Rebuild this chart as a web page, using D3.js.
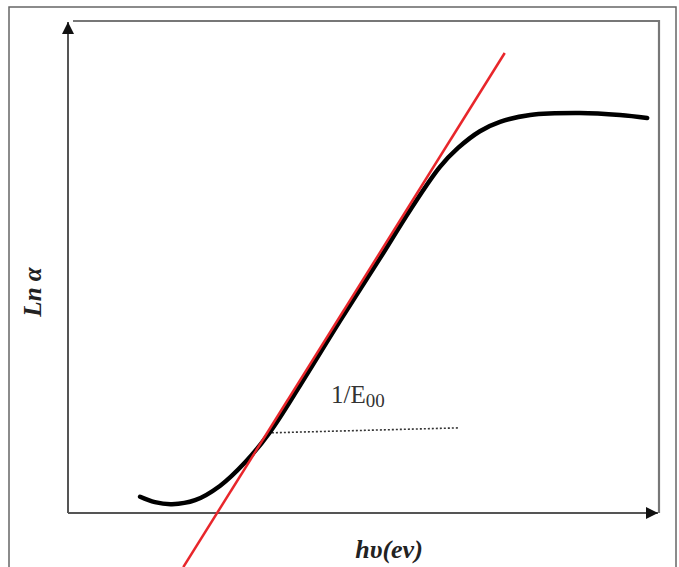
<!DOCTYPE html>
<html>
<head>
<meta charset="utf-8">
<script src="https://cdn.jsdelivr.net/npm/d3@7"></script>
<style>
  body { margin: 0; background: #fff; }
  svg { display: block; }
</style>
</head>
<body>
<div id="chart"></div>
<script>
// curve (arbitrary units, 0..100 on both axes)
var curveX = [12.2, 14.7, 17.6, 21.5, 25.7, 29.9, 34.2, 39.3, 46.0, 52.8, 57.9, 62.9, 66.0, 69.7, 73.1, 78.2, 86.6, 93.4, 98.0];
var curveY = [3.3, 2.2, 1.8, 2.6, 5.5, 10.2, 16.5, 26.0, 39.0, 51.8, 61.6, 70.3, 74.2, 77.6, 79.5, 80.9, 81.3, 80.9, 80.3];

// red tangent line
var tangentX = [19.5, 73.9];
var tangentY = [-11.0, 93.5];

// dotted line under the 1/E00 label
var dotX = [34.5, 66.0];
var dotY = [16.3, 17.3];

var xLabel = "hυ(ev)";
var yLabel = "Ln α";

var W = 679, H = 567;
// note: "top" is taken by window.top, so use plot* names
var plotLeft = 68, plotRight = 659, plotTop = 21, plotBottom = 513;

var svg = d3.select("#chart").append("svg")
  .attr("width", W)
  .attr("height", H);

var xScale = d3.scaleLinear().domain([0, 100]).range([plotLeft, plotRight]);
var yScale = d3.scaleLinear().domain([0, 100]).range([plotBottom, plotTop]);

// outer frame of the figure
svg.append("rect")
  .attr("x", 9).attr("y", 7)
  .attr("width", 667).attr("height", 575)
  .attr("fill", "none")
  .attr("stroke", "#666")
  .attr("stroke-width", 1.5);

// top and right sides of the plot box
svg.append("path")
  .attr("d", "M" + (plotLeft + 5) + "," + plotTop + "H" + plotRight + "V" + plotBottom)
  .attr("fill", "none")
  .attr("stroke", "#777")
  .attr("stroke-width", 2.2);

svg.append("defs").append("marker")
  .attr("id", "arrow")
  .attr("viewBox", "0 0 10 10")
  .attr("refX", 10).attr("refY", 5)
  .attr("markerWidth", 6).attr("markerHeight", 6)
  .attr("markerUnits", "strokeWidth")
  .attr("orient", "auto")
  .append("path")
  .attr("d", "M0,0L10,5L0,10z")
  .attr("fill", "#111");

// axes, drawn as plain lines with arrow heads
svg.append("line")
  .attr("x1", plotLeft).attr("y1", plotBottom)
  .attr("x2", plotRight - 1).attr("y2", plotBottom)
  .attr("stroke", "#555").attr("stroke-width", 2)
  .attr("marker-end", "url(#arrow)");

svg.append("line")
  .attr("x1", plotLeft).attr("y1", plotBottom)
  .attr("x2", plotLeft).attr("y2", plotTop + 1)
  .attr("stroke", "#555").attr("stroke-width", 2)
  .attr("marker-end", "url(#arrow)");

var straight = d3.line()
  .x(function(d) { return xScale(d[0]); })
  .y(function(d) { return yScale(d[1]); });

var smooth = d3.line()
  .x(function(d) { return xScale(d[0]); })
  .y(function(d) { return yScale(d[1]); })
  .curve(d3.curveCatmullRom.alpha(0.5));

// dotted line
svg.append("path")
  .datum(d3.zip(dotX, dotY))
  .attr("d", straight)
  .attr("fill", "none")
  .attr("stroke", "#333")
  .attr("stroke-width", 1.6)
  .attr("stroke-dasharray", "2,2");

// black measured curve
svg.append("path")
  .datum(d3.zip(curveX, curveY))
  .attr("d", smooth)
  .attr("fill", "none")
  .attr("stroke", "#000")
  .attr("stroke-width", 4.5)
  .attr("stroke-linecap", "round");

// red tangent
svg.append("path")
  .datum(d3.zip(tangentX, tangentY))
  .attr("d", straight)
  .attr("fill", "none")
  .attr("stroke", "#e8262b")
  .attr("stroke-width", 2.5);

// 1/E00 label
var lab = svg.append("text")
  .attr("x", 331).attr("y", 403)
  .style("font-family", "'Liberation Serif', 'Times New Roman', serif")
  .style("font-size", "25px")
  .attr("fill", "#333");
lab.append("tspan").text("1/E");
lab.append("tspan").attr("dy", 4).style("font-size", "19px").text("00");

// axis titles
svg.append("text")
  .attr("x", 389).attr("y", 558)
  .attr("text-anchor", "middle")
  .style("font-family", "'Liberation Serif', 'Times New Roman', serif")
  .style("font-size", "26px")
  .style("font-weight", "bold")
  .style("font-style", "italic")
  .attr("fill", "#222")
  .text(xLabel);

svg.append("text")
  .attr("transform", "translate(41,292) rotate(-90)")
  .attr("text-anchor", "middle")
  .style("font-family", "'Liberation Serif', 'Times New Roman', serif")
  .style("font-size", "25px")
  .style("font-weight", "bold")
  .style("font-style", "italic")
  .attr("fill", "#222")
  .text(yLabel);
</script>
</body>
</html>
